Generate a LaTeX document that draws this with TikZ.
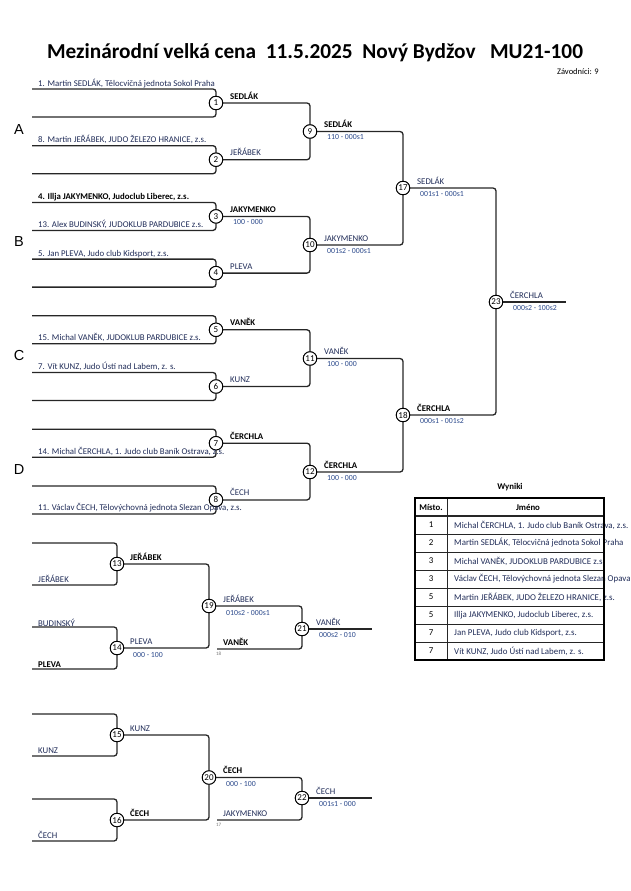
\documentclass[tikz,border=0pt]{standalone}
\usepackage{fontspec}
\setmainfont{Carlito}
\newfontfamily\poolfont{Liberation Sans}
\usetikzlibrary{positioning}
\definecolor{namecol}{RGB}{32,44,88}
\definecolor{scorecol}{RGB}{44,74,140}
\definecolor{linecol}{RGB}{38,38,38}
\tikzset{
    match/.style={draw=black, circle, fill=white, inner sep=0pt, minimum size=13.5pt, line width=0.9pt, font=\fontsize{9}{10}\selectfont},
    bline/.style={draw=linecol, line width=1.3pt, rounded corners=3pt},
    entrant/.style={anchor=base west, inner sep=0pt, text=namecol, font=\fontsize{8.8}{10}\selectfont},
    entrantb/.style={entrant, text=black, font=\fontsize{8.8}{10}\selectfont\bfseries},
    winner/.style={anchor=base west, inner sep=0pt, text=namecol, font=\fontsize{8.8}{10}\selectfont},
    winnerb/.style={winner, text=black, font=\fontsize{8.8}{10}\selectfont\bfseries},
    score/.style={anchor=base west, inner sep=0pt, text=scorecol, font=\fontsize{7.8}{9}\selectfont},
    fromno/.style={anchor=base west, inner sep=0pt, text=black!55, font=\fontsize{5}{6}\selectfont},
    pool/.style={inner sep=0pt, font=\poolfont\fontsize{14.5}{16}\selectfont},
    cell/.style={inner sep=0pt, text=namecol, font=\fontsize{8.9}{10}\selectfont},
    cellhead/.style={inner sep=0pt, font=\fontsize{8.8}{10}\selectfont\bfseries}
}

\begin{document}
\begin{tikzpicture}[x=1pt, y=-1pt]
    \useasboundingbox (0,0) rectangle (630,891);

    % Nadpis
    \node (title) [font=\fontsize{21.3}{24}\selectfont\bfseries] at (315,53) {Mezinárodní velká cena\ \ 11.5.2025\ \ Nový Bydžov\ \ \ MU21-100};
    \node (count) [anchor=east, inner sep=0pt, font=\fontsize{8.5}{10}\selectfont] at (599,72) {Závodníci: 9};

    % Skupiny
    \node (poolA) [pool] at (19,130) {A};
    \node (poolB) [pool] at (19,242) {B};
    \node (poolC) [pool] at (19,356) {C};
    \node (poolD) [pool] at (19,470) {D};

    % 1. kolo
    \foreach \n/\y in {1/103, 2/159.7, 3/216.4, 4/273.1, 5/329.8, 6/386.5, 7/443.2, 8/499.9} {
        \coordinate (top\n) at (32,\y-14);
        \coordinate (bot\n) at (32,\y+14);
        \node (m\n) [match] at (216,\y) {\n};
        \draw [bline] (top\n) -| (m\n);
        \draw [bline] (bot\n) -| (m\n);
    }

    % Dalsi kola
    \node (m9) [match] at (310,131.5) {9};
    \node (m10) [match] at (310,245) {10};
    \node (m11) [match] at (310,358.5) {11};
    \node (m12) [match] at (310,472) {12};
    \node (m17) [match] at (403,188) {17};
    \node (m18) [match] at (403,415) {18};
    \node (m23) [match] at (496,302) {23};
    \coordinate (end23) at (566,302);

    \draw [bline] (m1) -| (m9);
    \draw [bline] (m2) -| (m9);
    \draw [bline] (m3) -| (m10);
    \draw [bline] (m4) -| (m10);
    \draw [bline] (m5) -| (m11);
    \draw [bline] (m6) -| (m11);
    \draw [bline] (m7) -| (m12);
    \draw [bline] (m8) -| (m12);
    \draw [bline] (m9) -| (m17);
    \draw [bline] (m10) -| (m17);
    \draw [bline] (m11) -| (m18);
    \draw [bline] (m12) -| (m18);
    \draw [bline] (m17) -| (m23);
    \draw [bline] (m18) -| (m23);
    \draw [bline] (m23) -- (end23);
    \foreach \n in {1,...,12,17,18,23} \node [match] at (m\n) {\n};

    % Zavodnici
    \node (e1) [entrant] at (38,86) {1. Martin SEDLÁK, Tělocvičná jednota Sokol Praha};
    \node (e8) [entrant] at (38,142.7) {8. Martin JEŘÁBEK, JUDO ŽELEZO HRANICE, z.s.};
    \node (e4) [entrantb] at (38,199.4) {4. Illja JAKYMENKO, Judoclub Liberec, z.s.};
    \node (e13) [entrant] at (38,227.4) {13. Alex BUDINSKÝ, JUDOKLUB PARDUBICE z.s.};
    \node (e5) [entrant] at (38,256.1) {5. Jan PLEVA, Judo club Kidsport, z.s.};
    \node (e15) [entrant] at (38,340.8) {15. Michal VANĚK, JUDOKLUB PARDUBICE z.s.};
    \node (e7) [entrant] at (38,369.5) {7. Vít KUNZ, Judo Ústí nad Labem, z. s.};
    \node (e14) [entrant] at (38,454.2) {14. Michal ČERCHLA, 1. Judo club Baník Ostrava, z.s.};
    \node (e11) [entrant] at (38,510.9) {11. Václav ČECH, Tělovýchovná jednota Slezan Opava, z.s.};

    % Vitezove a skore
    \node (w1) [winnerb] at (230,99) {SEDLÁK};
    \node (w2) [winner] at (230,155.7) {JEŘÁBEK};
    \node (w3) [winnerb] at (230,212.4) {JAKYMENKO};
    \node (s3) [score] at (233,224.4) {100 - 000};
    \node (w4) [winner] at (230,269.1) {PLEVA};
    \node (w5) [winnerb] at (230,325.8) {VANĚK};
    \node (w6) [winner] at (230,382.5) {KUNZ};
    \node (w7) [winnerb] at (230,439.2) {ČERCHLA};
    \node (w8) [winner] at (230,495.9) {ČECH};
    \node (w9) [winnerb] at (324,127.5) {SEDLÁK};
    \node (s9) [score] at (327,139.5) {110 - 000s1};
    \node (w10) [winner] at (324,241) {JAKYMENKO};
    \node (s10) [score] at (327,253) {001s2 - 000s1};
    \node (w11) [winner] at (324,354.5) {VANĚK};
    \node (s11) [score] at (327,366.5) {100 - 000};
    \node (w12) [winnerb] at (324,468) {ČERCHLA};
    \node (s12) [score] at (327,480) {100 - 000};
    \node (w17) [winner] at (417,184) {SEDLÁK};
    \node (s17) [score] at (420,196) {001s1 - 000s1};
    \node (w18) [winnerb] at (417,411) {ČERCHLA};
    \node (s18) [score] at (420,423) {000s1 - 001s2};
    \node (w23) [winner] at (510,298) {ČERCHLA};
    \node (s23) [score] at (513,310) {000s2 - 100s2};

    % Opravy
    \foreach \n/\y in {13/564, 14/648, 15/735, 16/820} {
        \coordinate (top\n) at (32,\y-21);
        \coordinate (bot\n) at (32,\y+21);
        \node (m\n) [match] at (117,\y) {\n};
        \draw [bline] (top\n) -| (m\n);
        \draw [bline] (bot\n) -| (m\n);
    }
    \node (m19) [match] at (209,606) {19};
    \node (m20) [match] at (209,777.5) {20};
    \node (m21) [match] at (302,629) {21};
    \node (m22) [match] at (302,798) {22};
    \coordinate (in21) at (217,649);
    \coordinate (in22) at (217,820);
    \coordinate (end21) at (372,629);
    \coordinate (end22) at (372,798);

    \draw [bline] (m13) -| (m19);
    \draw [bline] (m14) -| (m19);
    \draw [bline] (m15) -| (m20);
    \draw [bline] (m16) -| (m20);
    \draw [bline] (m19) -| (m21);
    \draw [bline] (in21) -| (m21);
    \draw [bline] (m20) -| (m22);
    \draw [bline] (in22) -| (m22);
    \draw [bline] (m21) -- (end21);
    \draw [bline] (m22) -- (end22);
    \foreach \n in {13,...,16,19,20,21,22} \node [match] at (m\n) {\n};

    \node (r13) [entrant] at (38,582) {JEŘÁBEK};
    \node (r14a) [entrant] at (38,626) {BUDINSKÝ};
    \node (r14b) [entrantb] at (38,667) {PLEVA};
    \node (r15) [entrant] at (38,753) {KUNZ};
    \node (r16) [entrant] at (38,838) {ČECH};
    \node (w13) [winnerb] at (130,560) {JEŘÁBEK};
    \node (w14) [winner] at (130,644) {PLEVA};
    \node (s14) [score] at (133,657) {000 - 100};
    \node (w15) [winner] at (130,731) {KUNZ};
    \node (w16) [winnerb] at (130,816) {ČECH};
    \node (w19) [winner] at (223,602) {JEŘÁBEK};
    \node (s19) [score] at (226,615) {010s2 - 000s1};
    \node (w20) [winnerb] at (223,773.5) {ČECH};
    \node (s20) [score] at (226,786) {000 - 100};
    \node (l18) [winnerb] at (223,645) {VANĚK};
    \node (n18) [fromno] at (216,655) {18};
    \node (l17) [winner] at (223,816) {JAKYMENKO};
    \node (n17) [fromno] at (216,826) {17};
    \node (w21) [winner] at (316,625) {VANĚK};
    \node (s21) [score] at (319,637) {000s2 - 010};
    \node (w22) [winner] at (316,794) {ČECH};
    \node (s22) [score] at (319,806) {001s1 - 000};

    % Vysledky
    \node (results) [cellhead] at (510,487) {Wyniki};
    \foreach \r in {1,...,7} \draw [linecol, line width=0.8pt] (415,516+18*\r) -- (604,516+18*\r);
    \draw [linecol, line width=1.2pt] (415,516) -- (604,516);
    \draw [linecol, line width=0.8pt] (447,498) -- (447,660);
    \node (hplace) [cellhead] at (431,507) {Místo.};
    \node (hname) [cellhead] at (528,507) {Jméno};
    \foreach \r/\p/\who in {0/1/{Michal ČERCHLA, 1. Judo club Baník Ostrava, z.s.},
                            1/2/{Martin SEDLÁK, Tělocvičná jednota Sokol Praha},
                            2/3/{Michal VANĚK, JUDOKLUB PARDUBICE z.s.},
                            3/3/{Václav ČECH, Tělovýchovná jednota Slezan Opava, z.s.},
                            4/5/{Martin JEŘÁBEK, JUDO ŽELEZO HRANICE, z.s.},
                            5/5/{Illja JAKYMENKO, Judoclub Liberec, z.s.},
                            6/7/{Jan PLEVA, Judo club Kidsport, z.s.},
                            7/7/{Vít KUNZ, Judo Ústí nad Labem, z. s.}} {
        \node (place\r) [cell, text=black] at (431,525+18*\r) {\p};
        \node (who\r) [cell, anchor=west] at (454,525+18*\r) {\who};
    }
    \draw [black, line width=1.6pt] (415,498) rectangle (604,660);

\end{tikzpicture}
\end{document}
